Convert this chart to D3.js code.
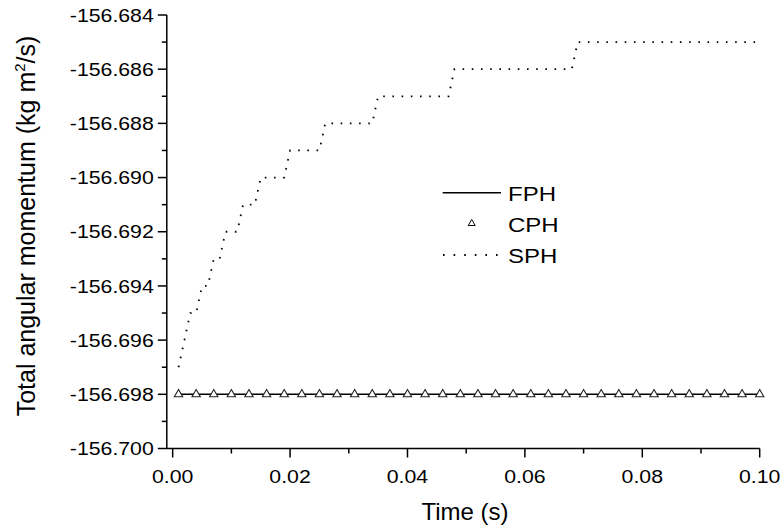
<!DOCTYPE html>
<html>
<head>
<meta charset="utf-8">
<script src="https://cdn.jsdelivr.net/npm/d3@7"></script>
<style>
  html, body { margin: 0; padding: 0; background: #fff; }
  svg { display: block; }
  text { font-family: "Liberation Sans", Arial, sans-serif; fill: #000; }
</style>
</head>
<body>
<svg id="chart" width="783" height="526"></svg>
<script>
// ---- data ----
const xTicks = [0.00, 0.02, 0.04, 0.06, 0.08, 0.10];
const xMinorTicks = [0.01, 0.03, 0.05, 0.07, 0.09];
const yTicks = [-156.700, -156.698, -156.696, -156.694, -156.692, -156.690, -156.688, -156.686, -156.684];
const yMinorTicks = [-156.699, -156.697, -156.695, -156.693, -156.691, -156.689, -156.687, -156.685];

// FPH: constant solid line
const fphTime = [0.001, 0.100];
const fphValue = [-156.698, -156.698];

// CPH: triangle markers
const cphTime = [0.001, 0.004, 0.007, 0.010, 0.013, 0.016, 0.019, 0.022, 0.025, 0.028, 0.031, 0.034,
                 0.037, 0.040, 0.043, 0.046, 0.049, 0.052, 0.055, 0.058, 0.061, 0.064, 0.067, 0.070,
                 0.073, 0.076, 0.079, 0.082, 0.085, 0.088, 0.091, 0.094, 0.097, 0.100];
const cphValue = [-156.698, -156.698, -156.698, -156.698, -156.698, -156.698, -156.698, -156.698,
                  -156.698, -156.698, -156.698, -156.698, -156.698, -156.698, -156.698, -156.698,
                  -156.698, -156.698, -156.698, -156.698, -156.698, -156.698, -156.698, -156.698,
                  -156.698, -156.698, -156.698, -156.698, -156.698, -156.698, -156.698, -156.698,
                  -156.698, -156.698];

// SPH: stepped dotted line (values change points)
const sphTime = [0.001, 0.002, 0.003, 0.004, 0.005, 0.006, 0.007, 0.008, 0.009, 0.011, 0.012, 0.014,
                 0.015, 0.019, 0.020, 0.025, 0.026, 0.034, 0.035, 0.047, 0.048, 0.068, 0.069, 0.100];
const sphValue = [-156.697, -156.696, -156.695, -156.695, -156.694, -156.694, -156.693, -156.693,
                  -156.692, -156.692, -156.691, -156.691, -156.690, -156.690, -156.689, -156.689,
                  -156.688, -156.688, -156.687, -156.687, -156.686, -156.686, -156.685, -156.685];

const seriesNames = ["FPH", "CPH", "SPH"];

// ---- layout ----
const svg = d3.select("#chart");
const x = d3.scaleLinear().domain([-0.001, 0.100]).range([166.8, 759.7]);
const y = d3.scaleLinear().domain([-156.700, -156.684]).range([448.5, 15]);

function stretch(sel, k) {
  sel.each(function() {
    const len = this.getComputedTextLength();
    d3.select(this).attr("textLength", len * k).attr("lengthAdjust", "spacingAndGlyphs");
  });
}

// x axis
const xAxis = svg.append("g").attr("transform", `translate(0,${y.range()[0]})`);
xAxis.append("line").attr("x1", x.range()[0]).attr("x2", x.range()[1])
  .attr("stroke", "#000").attr("stroke-width", 1.5);
xAxis.selectAll("line.maj").data(xTicks).join("line").attr("class", "maj")
  .attr("x1", d => x(d)).attr("x2", d => x(d)).attr("y1", 0).attr("y2", 9)
  .attr("stroke", "#000").attr("stroke-width", 1.5);
xAxis.selectAll("line.min").data(xMinorTicks).join("line").attr("class", "min")
  .attr("x1", d => x(d)).attr("x2", d => x(d)).attr("y1", 0).attr("y2", 5)
  .attr("stroke", "#000").attr("stroke-width", 1.5);
const xLabels = xAxis.selectAll("text").data(xTicks).join("text")
  .attr("x", d => x(d)).attr("y", 34).attr("text-anchor", "middle")
  .style("font-size", "18.5px").text(d => d3.format(".2f")(d));
stretch(xLabels, 1.15);

// y axis
const yAxis = svg.append("g").attr("transform", `translate(${x.range()[0]},0)`);
yAxis.append("line").attr("y1", y.range()[0]).attr("y2", y.range()[1])
  .attr("stroke", "#000").attr("stroke-width", 1.5);
yAxis.selectAll("line.maj").data(yTicks).join("line").attr("class", "maj")
  .attr("y1", d => y(d)).attr("y2", d => y(d)).attr("x1", 0).attr("x2", -9)
  .attr("stroke", "#000").attr("stroke-width", 1.5);
yAxis.selectAll("line.min").data(yMinorTicks).join("line").attr("class", "min")
  .attr("y1", d => y(d)).attr("y2", d => y(d)).attr("x1", 0).attr("x2", -5)
  .attr("stroke", "#000").attr("stroke-width", 1.5);
const yLabels = yAxis.selectAll("text").data(yTicks).join("text")
  .attr("x", -13).attr("y", d => y(d)).attr("dy", "0.36em").attr("text-anchor", "end")
  .style("font-size", "18.5px").text(d => d3.format(".3f")(d).replace("−", "-"));
stretch(yLabels, 1.15);

// axis titles
svg.append("text").attr("x", 465).attr("y", 520).attr("text-anchor", "middle")
  .style("font-size", "24px").text("Time (s)");
const yt = svg.append("text").attr("transform", "translate(35,226) rotate(-90)")
  .attr("text-anchor", "middle").style("font-size", "25px");
yt.append("tspan").text("Total angular momentum (kg m");
yt.append("tspan").attr("dy", -10).style("font-size", "15px").text("2");
yt.append("tspan").attr("dy", 10).text("/s)");

// series
const fph = fphTime.map((t, i) => [t, fphValue[i]]);
const cph = cphTime.map((t, i) => [t, cphValue[i]]);
const sph = sphTime.map((t, i) => [t, sphValue[i]]);
const line = d3.line().x(d => x(d[0])).y(d => y(d[1]));

svg.append("path").attr("d", line(sph)).attr("fill", "none")
  .attr("stroke", "#000").attr("stroke-width", 1.8).attr("stroke-dasharray", "1.6 7.6");
svg.append("path").attr("d", line(fph)).attr("fill", "none")
  .attr("stroke", "#000").attr("stroke-width", 1.5);
const tri = d3.symbol().type(d3.symbolTriangle).size(30);
svg.selectAll("path.cph").data(cph).join("path").attr("class", "cph")
  .attr("transform", d => `translate(${x(d[0])},${y(d[1])})`)
  .attr("d", tri).attr("fill", "#fff").attr("stroke", "#222").attr("stroke-width", 1.1);

// legend
const lg = svg.append("g");
lg.append("line").attr("x1", 442.7).attr("x2", 501).attr("y1", 192.7).attr("y2", 192.7)
  .attr("stroke", "#000").attr("stroke-width", 1.5);
lg.append("path").attr("transform", "translate(471.7,223.5)")
  .attr("d", d3.symbol().type(d3.symbolTriangle).size(21)).attr("fill", "#fff")
  .attr("stroke", "#000").attr("stroke-width", 1);
lg.append("line").attr("x1", 443).attr("x2", 501).attr("y1", 255).attr("y2", 255)
  .attr("stroke", "#000").attr("stroke-width", 1.8).attr("stroke-dasharray", "1.6 9");
const lgText = lg.selectAll("text").data(seriesNames).join("text")
  .attr("x", 508).attr("y", (d, i) => 200.5 + i * 31.3)
  .style("font-size", "20.5px").text(d => d);
stretch(lgText, 1.17);
</script>
</body>
</html>
